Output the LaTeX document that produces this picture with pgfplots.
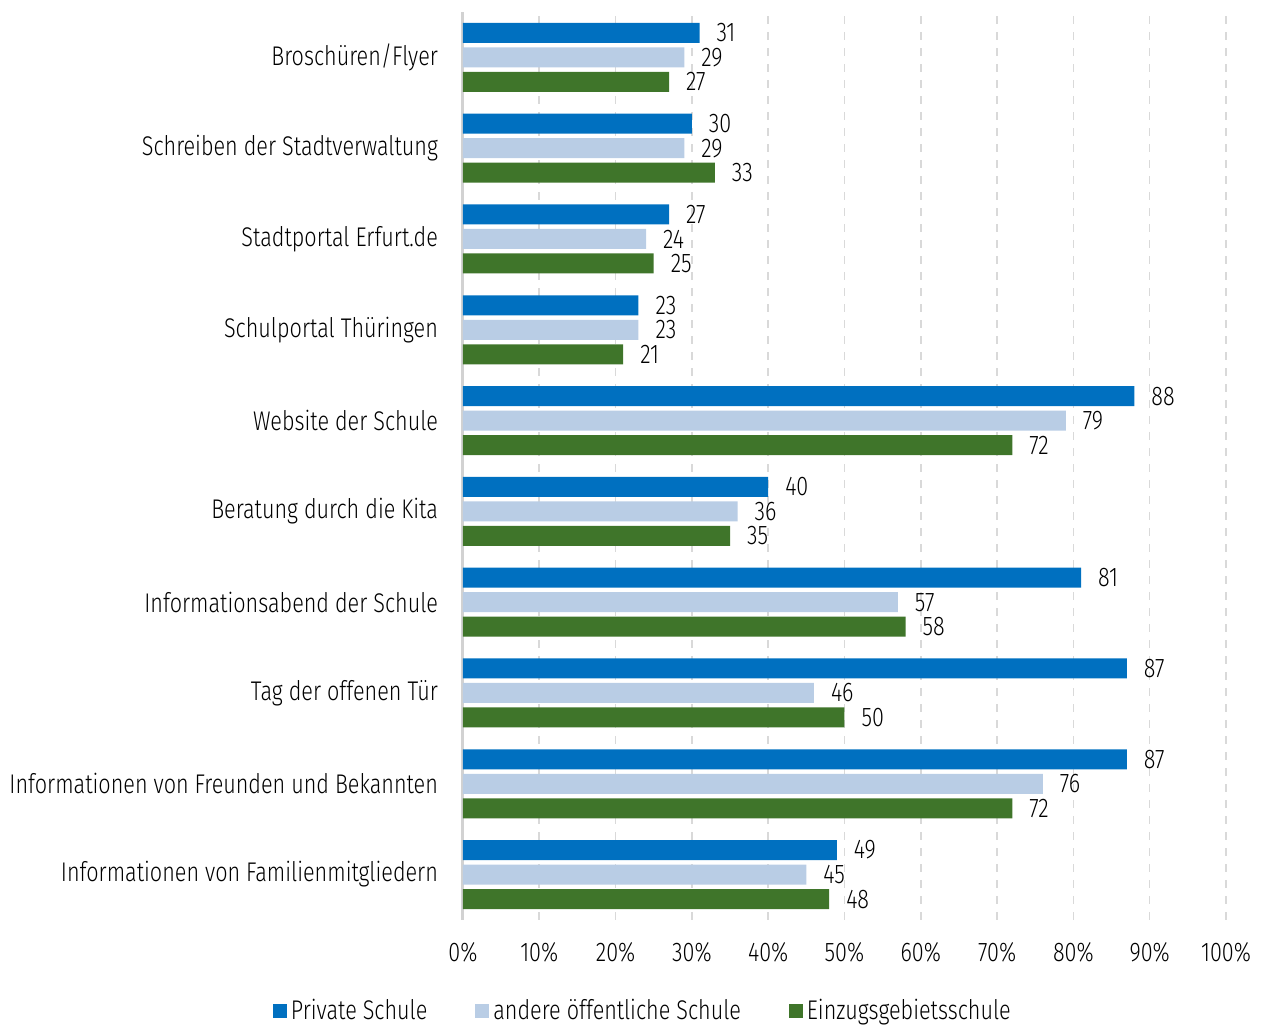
\documentclass[border=0pt]{standalone}
\usepackage{pgfplots}
\pgfplotsset{compat=1.18}
\usepackage{fontspec}
\setmainfont{Fira Sans}[UprightFont=* Light, FakeStretch=0.8]
\definecolor{cblue}{HTML}{0070C0}
\definecolor{clight}{HTML}{B9CDE5}
\definecolor{cgreen}{HTML}{3F752A}
\definecolor{cgrid}{HTML}{D9D9D9}
\begin{document}
\begin{tikzpicture}
\path[use as bounding box] (-231.5pt,-53pt) rectangle (401.5pt,460pt);
\begin{axis}[
  at={(0,0)}, anchor=south west,
  scale only axis,
  width=381.5pt, height=454pt,
  xbar, bar width=10pt,
  xmin=0, xmax=100,
  ymin=-0.5, ymax=9.5,
  xtick={0,10,...,100},
  xticklabel={\pgfmathprintnumber{\tick}\%},
  ytick={0,...,9},
  yticklabels={Informationen von Familienmitgliedern, Informationen von Freunden und Bekannten, Tag der offenen Tür, Informationsabend der Schule, Beratung durch die Kita, Website der Schule, Schulportal Thüringen, Stadtportal Erfurt.de, Schreiben der Stadtverwaltung, Broschüren/Flyer},
  /pgf/number format/assume math mode=true,
  tick label style={font=\fontsize{13.5}{15}\selectfont},
  yticklabel style={xshift=-9pt},
  xticklabel style={yshift=-7.5pt},
  major tick length=0pt,
  xmajorgrids, ymajorgrids=false,
  grid style={cgrid, line width=0.8pt, dash pattern=on 4pt off 4pt},
  axis x line*=bottom, axis y line*=left,
  x axis line style={draw=none},
  y axis line style={draw=gray!35, line width=1.5pt, -},
  nodes near coords,
  nodes near coords style={font=\fontsize{13.5}{15}\selectfont, anchor=west, xshift=5pt, text=black},
  legend columns=3,
  legend style={at={(0.237,-0.1)}, anchor=center, draw=none, fill=none,
    font=\fontsize{13.5}{15}\selectfont,
    /tikz/every even column/.append style={column sep=22pt}},
  legend image code/.code={\fill[#1] (0pt,-3.5pt) rectangle (7pt,3.5pt);},
]
\addplot[fill=cblue, draw=none, bar shift=12.25pt] coordinates {
(49,0) (87,1) (87,2) (81,3) (40,4) (88,5) (23,6) (27,7) (30,8) (31,9)};
\addplot[fill=clight, draw=none, bar shift=0pt] coordinates {
(45,0) (76,1) (46,2) (57,3) (36,4) (79,5) (23,6) (24,7) (29,8) (29,9)};
\addplot[fill=cgreen, draw=none, bar shift=-12.25pt] coordinates {
(48,0) (72,1) (50,2) (58,3) (35,4) (72,5) (21,6) (25,7) (33,8) (27,9)};
\legend{Private Schule, andere öffentliche Schule, Einzugsgebietsschule}
\end{axis}
\end{tikzpicture}
\end{document}
